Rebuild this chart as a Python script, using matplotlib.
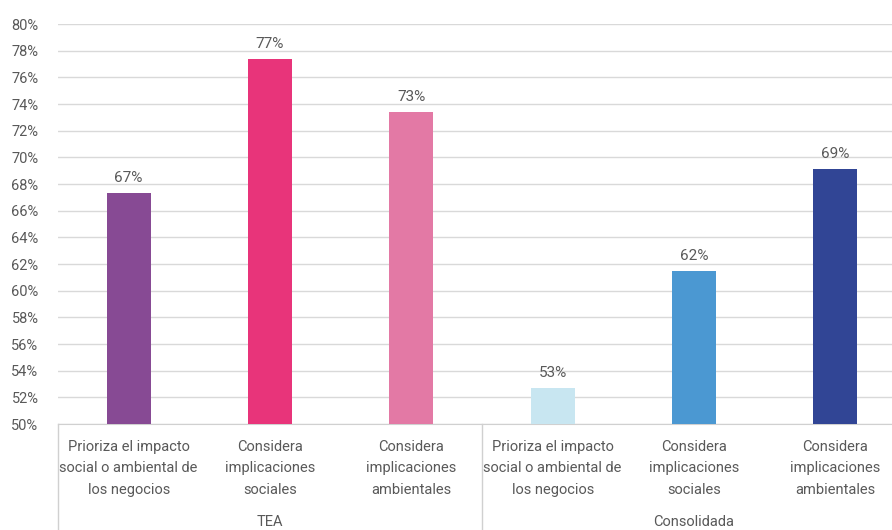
import matplotlib
matplotlib.use("Agg")
import matplotlib.pyplot as plt
from matplotlib import font_manager
from matplotlib.transforms import blended_transform_factory

categories = [
    "Prioriza el impacto\nsocial o ambiental de\nlos negocios",
    "Considera\nimplicaciones\nsociales",
    "Considera\nimplicaciones\nambientales",
    "Prioriza el impacto\nsocial o ambiental de\nlos negocios",
    "Considera\nimplicaciones\nsociales",
    "Considera\nimplicaciones\nambientales",
]
groups = ["TEA", "Consolidada"]
values = [67.3, 77.4, 73.4, 52.7, 61.5, 69.1]
value_labels = ["67%", "77%", "73%", "53%", "62%", "69%"]
colors = ["#874a94", "#e8347a", "#e379a5", "#c8e6f1", "#4b98d2", "#314595"]
yticks = list(range(50, 81, 2))

names = {f.name for f in font_manager.fontManager.ttflist}
fam = "Roboto" if "Roboto" in names else "DejaVu Sans"
plt.rcParams["font.family"] = [fam, "DejaVu Sans"]

txt = "#595959"
fig = plt.figure(figsize=(8.92, 5.30), dpi=100)
ax = fig.add_axes([58 / 892, 106 / 530, 848 / 892, 400 / 530])
x = list(range(len(values)))
ax.bar(x, [v - 50 for v in values], bottom=50, width=0.31, color=colors, zorder=3)
for xi, v, lab in zip(x, values, value_labels):
    ax.text(xi, v + 0.6, lab, ha="center", va="bottom", fontsize=11, color=txt)

ax.set_xlim(-0.5, len(values) - 0.5)
ax.set_ylim(50, 80)
ax.set_yticks(yticks)
ax.set_yticklabels([f"{t}%" for t in yticks], fontsize=10.5, color=txt)
ax.yaxis.grid(True, color="#d9d9d9", linewidth=1)
ax.set_axisbelow(True)
ax.tick_params(axis="y", length=0, pad=14)
ax.set_xticks([])
for s in ["top", "right", "left"]:
    ax.spines[s].set_visible(False)
ax.spines["bottom"].set_color("#d0d0d0")

tr = blended_transform_factory(ax.transData, ax.transAxes)
for xi, c in zip(x, categories):
    ax.text(xi, -0.04, c, transform=tr, ha="center", va="top", fontsize=10.5,
            color=txt, linespacing=1.68)
for gi, g in enumerate(groups):
    ax.text(gi * 3 + 1, -0.228, g, transform=tr, ha="center", va="top",
            fontsize=10.5, color=txt)
for xv in [-0.5, 2.5, 5.5]:
    ax.plot([xv, xv], [0, -0.3], transform=tr, color="#d0d0d0", lw=1,
            clip_on=False)

fig.savefig("out.png", dpi=100)
